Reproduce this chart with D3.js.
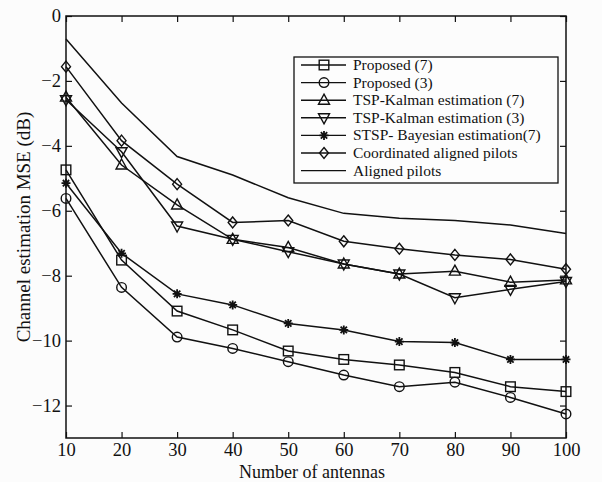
<!DOCTYPE html>
<html>
<head>
<meta charset="utf-8">
<script src="https://cdn.jsdelivr.net/npm/d3@7"></script>
<style>
  body { margin: 0; background: #fcfcfc; }
  svg { display: block; }
  text { font-family: "Liberation Serif", "Times New Roman", serif; fill: #111; }
</style>
</head>
<body>
<div id="chart"></div>
<script>
const antennas = [10, 20, 30, 40, 50, 60, 70, 80, 90, 100];

const proposed7 = [-4.74, -7.52, -9.09, -9.67, -10.32, -10.58, -10.75, -10.98, -11.42, -11.57];
const proposed3 = [-5.62, -8.36, -9.89, -10.24, -10.65, -11.06, -11.42, -11.28, -11.75, -12.26];
const tspKalman7 = [-2.5, -4.59, -5.82, -6.88, -7.13, -7.64, -7.95, -7.86, -8.2, -8.13];
const tspKalman3 = [-2.58, -4.18, -6.47, -6.88, -7.26, -7.64, -7.95, -8.68, -8.42, -8.18];
const stspBayes7 = [-5.15, -7.31, -8.56, -8.9, -9.47, -9.67, -10.03, -10.06, -10.58, -10.58];
const coordAligned = [-1.56, -3.84, -5.18, -6.36, -6.3, -6.94, -7.17, -7.36, -7.5, -7.8];
const aligned = [-0.71, -2.68, -4.33, -4.9, -5.6, -6.08, -6.23, -6.3, -6.44, -6.7];

const xTicks = [10, 20, 30, 40, 50, 60, 70, 80, 90, 100];
const yTicks = [0, -2, -4, -6, -8, -10, -12];

const series = [
  { name: 'Proposed (7)', values: proposed7, marker: 'square' },
  { name: 'Proposed (3)', values: proposed3, marker: 'circle' },
  { name: 'TSP-Kalman estimation (7)', values: tspKalman7, marker: 'up' },
  { name: 'TSP-Kalman estimation (3)', values: tspKalman3, marker: 'down' },
  { name: 'STSP- Bayesian estimation(7)', values: stspBayes7, marker: 'star' },
  { name: 'Coordinated aligned pilots', values: coordAligned, marker: 'diamond' },
  { name: 'Aligned pilots', values: aligned, marker: 'none' },
];

const width = 602;
const height = 482;
const margin = { top: 16, right: 36, bottom: 44, left: 66 };
const ink = '#111';

const svg = d3.select('#chart').append('svg')
  .attr('width', width)
  .attr('height', height);

const x = d3.scaleLinear().domain([10, 100]).range([margin.left, width - margin.right]);
const y = d3.scaleLinear().domain([-13, 0]).range([height - margin.bottom, margin.top]);

// inward ticks on all four sides
function styleAxis(g) {
  g.select('.domain').remove();
  g.selectAll('line').attr('stroke', ink).attr('stroke-width', 1.2);
  g.selectAll('text').attr('font-size', 18.5).style('font-family', '"Liberation Serif", serif').attr('fill', ink);
}

svg.append('g')
  .attr('transform', `translate(0,${y(-13)})`)
  .call(d3.axisBottom(x).tickValues(xTicks).tickSize(-6).tickPadding(5))
  .call(styleAxis);
svg.append('g')
  .attr('transform', `translate(0,${y(0)})`)
  .call(d3.axisTop(x).tickValues(xTicks).tickSize(-6).tickFormat(''))
  .call(styleAxis);
svg.append('g')
  .attr('transform', `translate(${x(10)},0)`)
  .call(d3.axisLeft(y).tickValues(yTicks).tickSize(-6).tickPadding(5).tickFormat(d3.format('d')))
  .call(styleAxis);
svg.append('g')
  .attr('transform', `translate(${x(100)},0)`)
  .call(d3.axisRight(y).tickValues(yTicks).tickSize(-6).tickFormat(''))
  .call(styleAxis);

// plot frame
svg.append('rect')
  .attr('x', x(10))
  .attr('y', y(0))
  .attr('width', x(100) - x(10))
  .attr('height', y(-13) - y(0))
  .attr('fill', 'none')
  .attr('stroke', ink)
  .attr('stroke-width', 1.5);

const line = d3.line()
  .x((d, i) => x(antennas[i]))
  .y(d => y(d));

function drawMarker(g, type, cx, cy) {
  const s = 4.8;
  if (type === 'square') {
    g.append('rect').attr('x', cx - s).attr('y', cy - s).attr('width', 2 * s).attr('height', 2 * s)
      .attr('fill', 'none').attr('stroke', ink).attr('stroke-width', 1.4);
  } else if (type === 'circle') {
    g.append('circle').attr('cx', cx).attr('cy', cy).attr('r', s)
      .attr('fill', 'none').attr('stroke', ink).attr('stroke-width', 1.4);
  } else if (type === 'up') {
    g.append('path').attr('d', `M${cx},${cy - 6}L${cx + 5.5},${cy + 4}L${cx - 5.5},${cy + 4}Z`)
      .attr('fill', 'none').attr('stroke', ink).attr('stroke-width', 1.4);
  } else if (type === 'down') {
    g.append('path').attr('d', `M${cx},${cy + 6}L${cx + 5.5},${cy - 4}L${cx - 5.5},${cy - 4}Z`)
      .attr('fill', 'none').attr('stroke', ink).attr('stroke-width', 1.4);
  } else if (type === 'diamond') {
    g.append('path').attr('d', `M${cx},${cy - 5.5}L${cx + 4.5},${cy}L${cx},${cy + 5.5}L${cx - 4.5},${cy}Z`)
      .attr('fill', 'none').attr('stroke', ink).attr('stroke-width', 1.4);
  } else if (type === 'star') {
    const r = 4.5;
    let d = '';
    for (let k = 0; k < 4; k++) {
      const a = k * Math.PI / 4;
      d += `M${cx - r * Math.cos(a)},${cy - r * Math.sin(a)}L${cx + r * Math.cos(a)},${cy + r * Math.sin(a)}`;
    }
    g.append('path').attr('d', d).attr('stroke', ink).attr('stroke-width', 1.8);
  }
}

series.forEach((s) => {
  const g = svg.append('g');
  g.append('path')
    .datum(s.values)
    .attr('d', line)
    .attr('fill', 'none')
    .attr('stroke', ink)
    .attr('stroke-width', 1.5);
  s.values.forEach((v, i) => drawMarker(g, s.marker, x(antennas[i]), y(v)));
});

// legend
const legend = svg.append('g');
const lx = 294;
const ly = 57;
legend.append('rect')
  .attr('x', lx).attr('y', ly)
  .attr('width', 264).attr('height', 126)
  .attr('fill', '#fdfdfd').attr('stroke', ink).attr('stroke-width', 1.3);
series.forEach((s, i) => {
  const rowY = ly + 8 + i * 17.6;
  legend.append('line')
    .attr('x1', lx + 7).attr('x2', lx + 52)
    .attr('y1', rowY).attr('y2', rowY)
    .attr('stroke', ink).attr('stroke-width', 1.4);
  drawMarker(legend, s.marker, lx + 30, rowY);
  legend.append('text')
    .attr('x', lx + 59).attr('y', rowY + 5)
    .attr('font-size', 15.5)
    .text(s.name);
});

// axis titles
svg.append('text')
  .attr('x', (x(10) + x(100)) / 2 - 4)
  .attr('y', 477.5)
  .attr('text-anchor', 'middle')
  .attr('font-size', 18)
  .text('Number of antennas');
svg.append('text')
  .attr('transform', `translate(30,${(y(0) + y(-13)) / 2}) rotate(-90)`)
  .attr('text-anchor', 'middle')
  .attr('font-size', 19)
  .text('Channel estimation MSE (dB)');
</script>
</body>
</html>
